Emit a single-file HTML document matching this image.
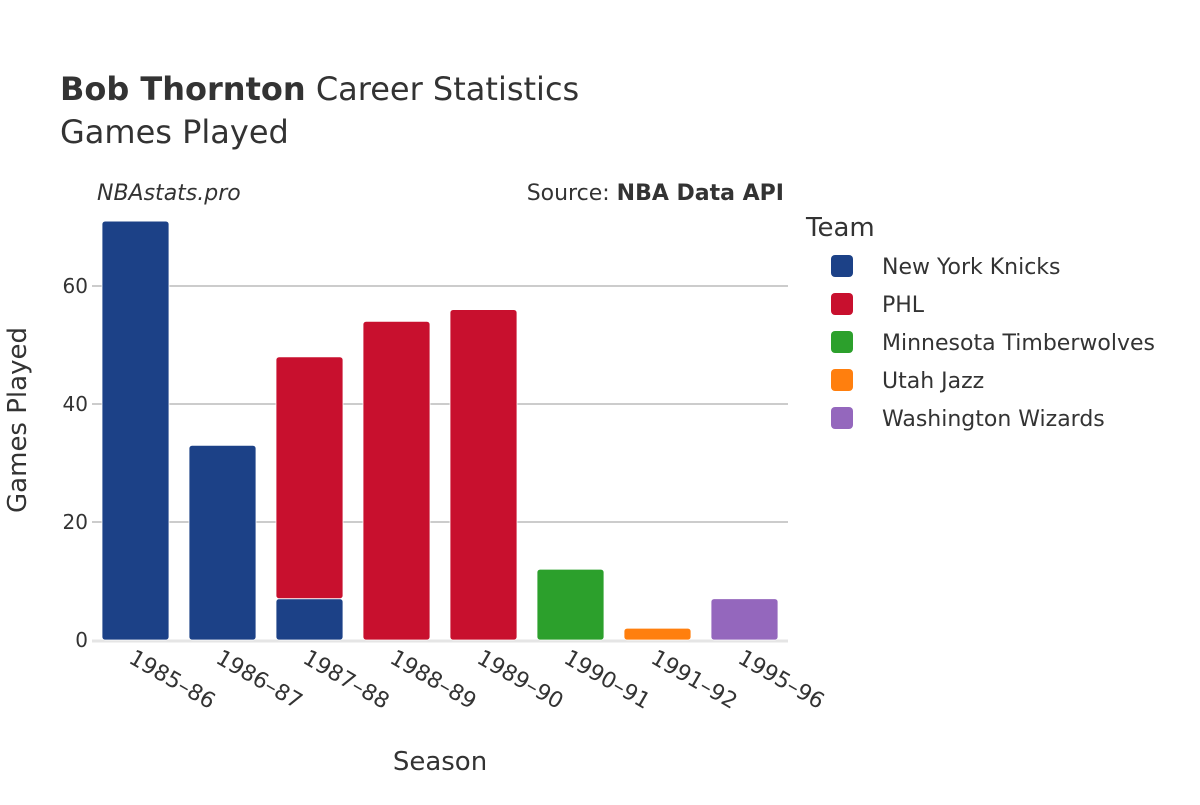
<!DOCTYPE html>
<html><head><meta charset="utf-8"><style>
body{margin:0;background:#fff;}
svg text{font-family:"DejaVu Sans","Liberation Sans",sans-serif;fill:#333;}
</style></head><body>
<svg id="chart" width="1200" height="800">
<text x="60" y="100" font-size="32"><tspan font-weight="bold">Bob Thornton</tspan> Career Statistics</text>
<text x="60" y="143" font-size="32">Games Played</text>
<text x="97" y="200" font-size="22" font-style="italic">NBAstats.pro</text>
<text x="784" y="200" font-size="22" text-anchor="end">Source: <tspan font-weight="bold">NBA Data API</tspan></text>
<g id="grid"></g>
<g id="bars"></g>
<g id="xt"></g>
<text x="440" y="770" font-size="26" text-anchor="middle">Season</text>
<text transform="translate(26,420) rotate(-90)" font-size="26" text-anchor="middle">Games Played</text>
<g id="legend">
<text x="806" y="236" font-size="26">Team</text>
</g>
</svg>
<script>
const categories=["1985-86","1986-87","1987-88","1988-89","1989-90","1990-91","1991-92","1995-96"];
const teams=["New York Knicks","PHL","Minnesota Timberwolves","Utah Jazz","Washington Wizards"];
const colors=["#1c4187","#c8102e","#2ca02c","#ff7f0e","#9467bd"];
const knicks=[71,33,7,0,0,0,0,0];
const phl=[0,0,41,54,56,0,0,0];
const wolves=[0,0,0,0,0,12,0,0];
const jazz=[0,0,0,0,0,0,2,0];
const wizards=[0,0,0,0,0,0,0,7];
const series=[knicks,phl,wolves,jazz,wizards];
const yTicks=[0,20,40,60];
const NS="http://www.w3.org/2000/svg";
const x0=92,x1=788,yb=640,pxPer=5.9;
const band=(x1-x0)/categories.length;
const y=v=>yb-v*pxPer;
function mk(t,a,p){const e=document.createElementNS(NS,t);for(const k in a)e.setAttribute(k,a[k]);p.appendChild(e);return e;}
const grid=document.getElementById('grid');
yTicks.forEach(t=>{
  if(t>0){const l=mk('line',{x1:x0,x2:x1,y1:y(t),y2:y(t),stroke:'#999','stroke-width':1},grid);
  
  }
  const tx=mk('text',{x:x0-4,y:y(t)+7,'font-size':20,'text-anchor':'end'},grid);tx.textContent=t;
  
  
});
const base=mk('line',{x1:x0,x2:x1,y1:yb+1,y2:yb+1,stroke:'#e5e5e5','stroke-width':3},grid);


const bars=document.getElementById('bars');
categories.forEach((c,i)=>{
  let cum=0;const bx=x0+band*i+10,bw=band-20;
  series.forEach((s,j)=>{
    const v=s[i];if(!v)return;
    const top=y(cum+v),h=v*pxPer;
    const r=mk('rect',{x:bx,y:top,width:bw,height:h,rx:3,fill:colors[j],stroke:'#fff','stroke-width':0.8},bars);
    
    
    cum+=v;
  });
  const xt=document.getElementById('xt');
  const cx=x0+band*(i+0.5);
  const t=mk('text',{transform:`translate(${cx-8},${yb+22}) rotate(30)`,'font-size':22},xt);
  t.textContent=c.replace('-','–');
  
  
});
const lg=document.getElementById('legend');
teams.forEach((tm,j)=>{
  const g=mk('g',{},lg);
  
  
  mk('rect',{x:831,y:255+38*j,width:22,height:22,rx:4,fill:colors[j]},g);
  const t=mk('text',{x:882,y:274+38*j,'font-size':22},g);t.textContent=tm;
});
</script>
</body></html>
